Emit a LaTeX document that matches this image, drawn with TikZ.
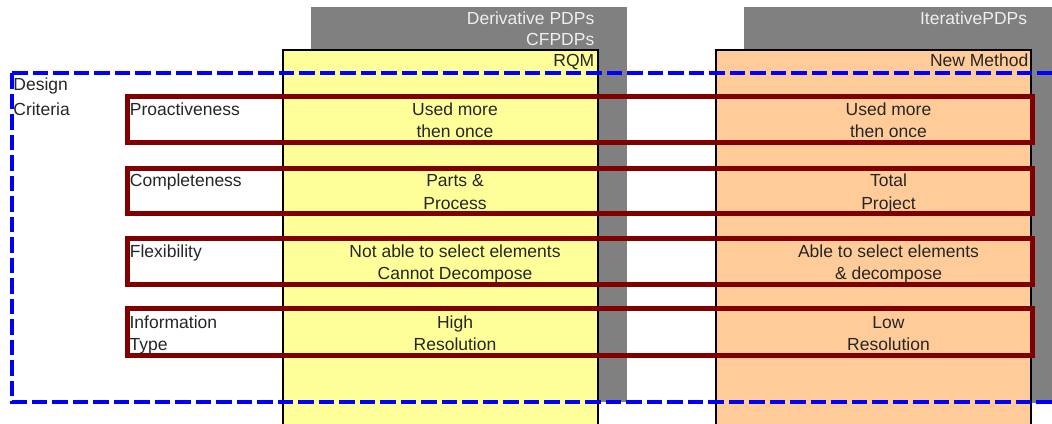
\documentclass[tikz,border=0pt]{standalone}
\usepackage{fontspec}
\setmainfont{Liberation Sans}
\definecolor{shadegray}{HTML}{808080}
\definecolor{hdrtext}{HTML}{EEEEEE}
\definecolor{rqmfill}{HTML}{FFFF99}
\definecolor{newfill}{HTML}{FFCC99}
\definecolor{critred}{HTML}{800000}
\definecolor{areablue}{HTML}{0000FF}
\newcommand{\twoline}[3]{\begin{tabular}[t]{@{}#1@{}}#2\\#3\end{tabular}}
\tikzset{
  shade/.style={fill=shadegray, draw=none},
  column/.style={draw=black, line width=2pt},
  critbox/.style={draw=critred, line width=5pt},
  area/.style={draw=areablue, line width=4pt, dash pattern=on 15.5pt off 5pt},
  hdr/.style={text=hdrtext, inner sep=0pt, anchor=base east},
  txt/.style={text=black!85, inner sep=0pt, anchor=base},
  lbl/.style={text=black!85, inner sep=0pt, anchor=base west},
}
\begin{document}
\begin{tikzpicture}[x=1pt, y=-1pt, font=\fontsize{17.5}{22.3}\selectfont]
\useasboundingbox (0,0) rectangle (1052,423);
\clip (0,0) rectangle (1052,423);

% shaded header blocks behind the two method columns
\fill[shade] (311,7) rectangle (627,402);
\fill[shade] (744,7) rectangle (1060,403);

% method columns
\draw[column, fill=rqmfill] (282.7,50) rectangle (598,425);
\draw[column, fill=newfill] (716,50) rectangle (1031.3,425);

% column headings
\node[hdr] (derivative) at (594.5,24) {Derivative PDPs};
\node[hdr] (cfpdps) at (594.5,45.3) {CFPDPs};
\node[txt, anchor=base east, text=black!85] (rqm) at (594.5,66.7) {RQM};
\node[hdr] (iterative) at (1027.3,24) {IterativePDPs};
\node[txt, anchor=base east, text=black!85] (newmethod) at (1028.5,66.7) {New Method};

% design criteria area
\draw[area] (11.7,73.3) rectangle (1075,401.7);
\node[lbl, font=\fontsize{17.5}{25}\selectfont] (design) at (13.2,90.6)
  {\twoline{l}{Design}{Criteria}};

% criterion rows
\draw[critbox] (127,96.5) rectangle (1032,142.5);
\draw[critbox] (127,168) rectangle (1032,213.5);
\draw[critbox] (127,238.5) rectangle (1032,284.7);
\draw[critbox] (127,308.5) rectangle (1032,355.5);

% criterion names
\node[lbl] (proact) at (129.7,115.5) {Proactiveness};
\node[lbl] (complete) at (129.7,186.7) {Completeness};
\node[lbl] (flex) at (129.7,257.5) {Flexibility};
\node[lbl] (infotype) at (129.4,328.5) {\twoline{l}{Information}{Type}};

% RQM column entries
\node[txt] (rqm1) at (455,115.5) {\twoline{c}{Used more}{then once}};
\node[txt] (rqm2) at (455,186.7) {\twoline{c}{Parts \&}{Process}};
\node[txt] (rqm3) at (455,257.5) {\twoline{c}{Not able to select elements}{Cannot Decompose}};
\node[txt] (rqm4) at (455,328.5) {\twoline{c}{High}{Resolution}};

% new method column entries
\node[txt] (new1) at (888.5,115.5) {\twoline{c}{Used more}{then once}};
\node[txt] (new2) at (888.5,186.7) {\twoline{c}{Total}{Project}};
\node[txt] (new3) at (888.5,257.5) {\twoline{c}{Able to select elements}{\& decompose}};
\node[txt] (new4) at (888.5,328.5) {\twoline{c}{Low}{Resolution}};
\end{tikzpicture}
\end{document}
